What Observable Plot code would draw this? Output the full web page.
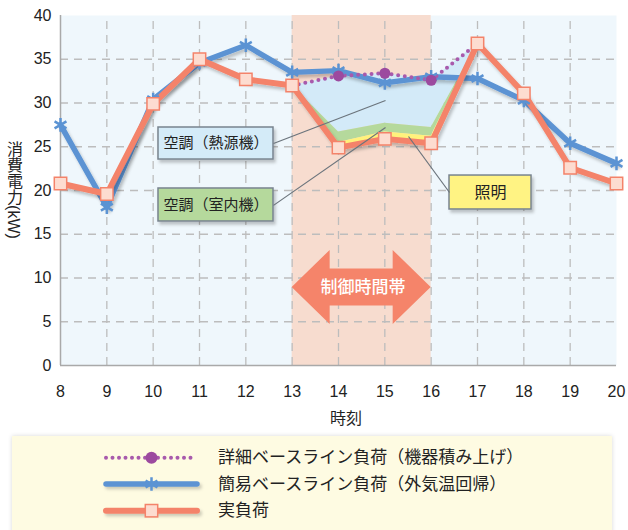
<!DOCTYPE html>
<html><head><meta charset="utf-8">
<script src="https://cdn.jsdelivr.net/npm/d3@7"></script>
<script src="https://cdn.jsdelivr.net/npm/@observablehq/plot@0.6"></script>
<style>
body{margin:0;background:#fff;font-family:"Liberation Sans","Noto Sans CJK JP",sans-serif;}
#chart{position:relative;width:628px;height:530px;overflow:hidden;}
#chart svg{display:block;}
</style></head><body><div id="chart"></div>
<script>
// ---- data ----
const hours = [8, 9, 10, 11, 12, 13, 14, 15, 16, 17, 18, 19, 20];
const actualLoad = [20.8, 19.6, 29.9, 35.0, 32.7, 32.0, 24.9, 25.9, 25.4, 36.8, 31.1, 22.6, 20.8];
const simpleBaseline = [27.5, 18.1, 30.4, 34.6, 36.6, 33.5, 33.7, 32.3, 33.0, 32.8, 30.3, 25.4, 23.1];
const ctrlHours = [13, 14, 15, 16, 17];
const detailedBaseline = [32.0, 33.1, 33.4, 32.6, 36.8];
const acHeatBottom = [32.0, 26.7, 27.7, 27.2, 36.8];
const acIndoorBottom = [32.0, 25.5, 26.7, 26.2, 36.8];
const detailedMarkerHours = [14, 15, 16];
const yTicks = [0, 5, 10, 15, 20, 25, 30, 35, 40];
const gridY = [5, 10, 15, 20, 25, 30, 35];
const gridX = [9, 10, 11, 12, 13, 14, 15, 16, 17, 18, 19];
const controlBand = [{x1: 13, x2: 16}];
const controlLabel = "制御時間帯";
const xLabel = "時刻";
const yLabel = "消費電力(kW)";
const legendNames = ["詳細ベースライン負荷（機器積み上げ）", "簡易ベースライン負荷（外気温回帰）", "実負荷"];
// annotation boxes (data units)
const annotations = [
  {text: "空調（熱源機）", x1: 10.115, x2: 12.597, y1: 23.54, y2: 27.2, fill: "#d4ebf8", size: 15,
   lx1: 12.597, ly1: 25.37, lx2: 15.015, ly2: 30.29},
  {text: "空調（室内機）", x1: 10.115, x2: 12.597, y1: 16.46, y2: 20.23, fill: "#b5d99c", size: 15,
   lx1: 12.597, ly1: 18.3, lx2: 15.015, ly2: 27.2},
  {text: "照明", x1: 16.396, x2: 18.166, y1: 17.83, y2: 21.71, fill: "#fff383", size: 16,
   lx1: 16.396, ly1: 19.77, lx2: 15.511, ly2: 26.17}
];
// double arrow outline (data units)
const arrowX = [13, 13.82, 13.82, 15.18, 15.18, 16];
const arrowLo = [8.92, 4.69, 6.80, 6.80, 4.69, 8.92];
const arrowHi = [8.92, 13.15, 11.04, 11.04, 13.15, 8.92];
const arrowLabelPos = {x: 14.53, y: 8.92};

// ---- colors ----
const cOrange = "#f4836a", cSquare = "#fddcd0", cBlue = "#5b93d3", cPurple = "#a85aac", cPurpleDot = "#9c4a9f";

const main = hours.map((h, i) => ({h, actual: actualLoad[i], simple: simpleBaseline[i]}));
const ctrl = ctrlHours.map((h, i) => ({h, det: detailedBaseline[i], heat: acHeatBottom[i], indoor: acIndoorBottom[i],
  actual: actualLoad[hours.indexOf(h)]}));
const detMarkers = ctrl.filter(d => detailedMarkerHours.includes(d.h));
const arrow = arrowX.map((x, i) => ({x, lo: arrowLo[i], hi: arrowHi[i]}));

const font = '"Liberation Sans","Noto Sans CJK JP",sans-serif';
const grid = {stroke: "#bdbdbd", strokeWidth: 1.3, strokeDasharray: "8,6"};

const plot = Plot.plot({
  width: 628, height: 430,
  marginLeft: 60, marginRight: 12, marginTop: 15, marginBottom: 65,
  x: {domain: [8, 20], ticks: hours, tickSize: 0, tickPadding: 20, label: null, tickFormat: d => String(d)},
  y: {domain: [0, 40], ticks: yTicks, tickSize: 0, tickPadding: 9, label: null},
  style: {fontFamily: font, fontSize: "16px", color: "#222", background: "#fff", overflow: "visible"},
  marks: [
    Plot.frame({fill: "#eff7fc", stroke: null}),
    Plot.rectY(controlBand, {x1: "x1", x2: "x2", y1: 0, y2: 40, fill: "#f7dccf"}),
    Plot.ruleX(gridX, {y1: 0, y2: 40, ...grid}),
    Plot.ruleY(gridY, {x1: 8, x2: 20, ...grid}),
    Plot.ruleX([8], {y1: 0, y2: 40, stroke: "#a9a9a9", strokeWidth: 1.5}),
    Plot.ruleY([0], {x1: 8, x2: 20, stroke: "#a9a9a9", strokeWidth: 1.5}),
    Plot.areaY(ctrl, {x: "h", y1: "heat", y2: "det", fill: "#d3eaf8"}),
    Plot.areaY(ctrl, {x: "h", y1: "indoor", y2: "heat", fill: "#b5d99c"}),
    Plot.areaY(ctrl, {x: "h", y1: "actual", y2: "indoor", fill: "#fff27c"}),
    Plot.areaY(arrow, {x: "x", y1: "lo", y2: "hi", fill: "#f5846a"}),
    Plot.text([controlLabel], {x: arrowLabelPos.x, y: arrowLabelPos.y, text: d => d, fill: "#fff", fontSize: 17, fontWeight: 500}),
    Plot.rect(annotations, {x1: "x1", x2: "x2", y1: "y1", y2: "y2", fill: "fill", stroke: "#78848f", strokeWidth: 1.5, ariaDescription: "shadow"}),
    Plot.text(annotations, {x: d => (d.x1 + d.x2) / 2, y: d => (d.y1 + d.y2) / 2, text: "text", fontSize: d => d.size, fill: "#222"}),
    Plot.line(main, {x: "h", y: "simple", stroke: cBlue, strokeWidth: 5.5, strokeLinejoin: "round", ariaDescription: "shadow"}),
    Plot.line(ctrl, {x: "h", y: "det", stroke: cPurple, strokeWidth: 4, strokeDasharray: "0,6.7", strokeLinecap: "round"}),
    Plot.line(main, {x: "h", y: "actual", stroke: cOrange, strokeWidth: 6, strokeLinejoin: "round", ariaDescription: "shadow"}),
    Plot.link(annotations, {x1: "lx1", y1: "ly1", x2: "lx2", y2: "ly2", stroke: "#6b747c", strokeWidth: 1.2}),
    Plot.dot(main, {x: "h", y: "simple", symbol: "asterisk", r: 6.5, stroke: cBlue, strokeWidth: 2.5}),
    Plot.dot(detMarkers, {x: "h", y: "det", r: 5.5, fill: cPurpleDot, stroke: null}),
    Plot.dot(main, {x: "h", y: "actual", symbol: "square", r: 7, fill: cSquare, stroke: cOrange, strokeWidth: 1.5})
  ]
});

const svg = d3.select(plot);
const defs = svg.insert("defs", ":first-child");
defs.append("filter").attr("id", "sh").attr("filterUnits", "userSpaceOnUse")
  .attr("x", 0).attr("y", 0).attr("width", 628).attr("height", 430)
  .append("feDropShadow").attr("dx", 2).attr("dy", 3).attr("stdDeviation", 1.8)
  .attr("flood-color", "#000").attr("flood-opacity", 0.22);
svg.selectAll('[aria-description="shadow"]').attr("filter", "url(#sh)");
// vertical y-axis label
svg.append("text").attr("x", 13.5).attr("y", 190).attr("text-anchor", "middle")
  .style("writing-mode", "vertical-rl").attr("font-size", 16).attr("fill", "#222").text(yLabel);
// x label
svg.append("text").attr("x", 346).attr("y", 418).attr("text-anchor", "middle")
  .attr("dominant-baseline", "central").attr("font-size", 16).attr("fill", "#222").text(xLabel);

document.getElementById("chart").appendChild(plot);

// ---- legend ----
const lg = d3.select("#chart").append("svg").attr("width", 628).attr("height", 100)
  .style("font-family", font);
const ldefs = lg.append("defs");
ldefs.append("filter").attr("id", "lsh").attr("filterUnits", "userSpaceOnUse")
  .attr("x", 0).attr("y", 0).attr("width", 628).attr("height", 100)
  .append("feDropShadow").attr("dx", 2).attr("dy", 2.5).attr("stdDeviation", 1.6)
  .attr("flood-color", "#000").attr("flood-opacity", 0.2);
ldefs.append("filter").attr("id", "bsh").attr("filterUnits", "userSpaceOnUse")
  .attr("x", 0).attr("y", 0).attr("width", 628).attr("height", 100)
  .append("feDropShadow").attr("dx", 0).attr("dy", 0).attr("stdDeviation", 2)
  .attr("flood-color", "#000").attr("flood-opacity", 0.15);
lg.append("rect").attr("x", 12).attr("y", 6).attr("width", 600).attr("height", 110)
  .attr("fill", "#fefbe2").attr("filter", "url(#bsh)");
const rowsY = [27.7, 54, 80.7];
const lx1 = 106, lx2 = 197, lmid = 151.5;
// row 1 detailed
lg.append("line").attr("x1", lx1).attr("x2", lx2).attr("y1", rowsY[0]).attr("y2", rowsY[0])
  .attr("stroke", cPurple).attr("stroke-width", 4).attr("stroke-dasharray", "0,6.5").attr("stroke-linecap", "round");
lg.append("circle").attr("cx", lmid).attr("cy", rowsY[0]).attr("r", 6).attr("fill", cPurpleDot);
// row 2 simple
lg.append("line").attr("x1", lx1).attr("x2", lx2).attr("y1", rowsY[1]).attr("y2", rowsY[1])
  .attr("stroke", cBlue).attr("stroke-width", 5.5).attr("stroke-linecap", "round").attr("filter", "url(#lsh)");
lg.append("path").attr("transform", `translate(${lmid},${rowsY[1]})`)
  .attr("d", d3.symbol(d3.symbolAsterisk, Math.PI * 6.5 * 6.5)())
  .attr("stroke", cBlue).attr("stroke-width", 2.5).attr("fill", "none");
// row 3 actual
lg.append("line").attr("x1", lx1).attr("x2", lx2).attr("y1", rowsY[2]).attr("y2", rowsY[2])
  .attr("stroke", cOrange).attr("stroke-width", 6).attr("stroke-linecap", "round").attr("filter", "url(#lsh)");
lg.append("rect").attr("x", lmid - 6.2).attr("y", rowsY[2] - 6.2).attr("width", 12.4).attr("height", 12.4)
  .attr("fill", cSquare).attr("stroke", cOrange).attr("stroke-width", 1.5);
legendNames.forEach((t, i) => {
  lg.append("text").attr("x", 218).attr("y", rowsY[i]).attr("dominant-baseline", "central")
    .attr("font-size", 17).attr("fill", "#222").text(t);
});
</script></body></html>
